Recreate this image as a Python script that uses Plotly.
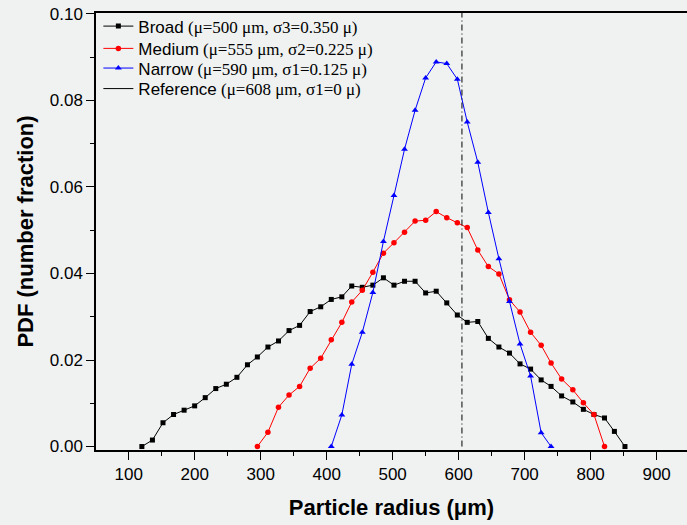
import plotly.graph_objects as go

# ---- data ----
broad_x = [120, 136, 152, 168, 184, 200, 216, 232, 248, 264, 280, 295, 311, 327, 343, 359,
           375, 391, 407, 423, 438, 454, 470, 486, 502, 518, 534, 550, 566, 582, 598, 613,
           629, 645, 661, 677, 693, 709, 725, 740, 756, 773, 789, 805, 821, 836, 852]
broad_y = [0.0, 0.0015, 0.0055, 0.0074, 0.0084, 0.0094, 0.0113, 0.0134, 0.0144, 0.0160,
           0.0189, 0.0207, 0.0230, 0.0244, 0.0268, 0.0280, 0.0312, 0.0323, 0.0340, 0.0346,
           0.0371, 0.0368, 0.0373, 0.0390, 0.0373, 0.0382, 0.0382, 0.0355, 0.0359, 0.0332,
           0.0304, 0.0287, 0.0289, 0.0250, 0.0230, 0.0216, 0.0191, 0.0179, 0.0154, 0.0139,
           0.0117, 0.0103, 0.0086, 0.0074, 0.0066, 0.0035, 0.0]

medium_x = [295, 311, 327, 343, 359, 375, 391, 407, 423, 438, 454, 470, 486, 502, 518, 534,
            550, 566, 582, 598, 613, 629, 645, 661, 677, 693, 709, 725, 740, 756, 773, 789,
            805, 821]
medium_y = [0.0, 0.0033, 0.0091, 0.0119, 0.0139, 0.0181, 0.0204, 0.0247, 0.0287, 0.0334,
            0.0361, 0.0403, 0.0447, 0.0471, 0.0495, 0.0521, 0.0523, 0.0543, 0.0529, 0.0517,
            0.0506, 0.0454, 0.0416, 0.0399, 0.0339, 0.0311, 0.0264, 0.0234, 0.0193, 0.0156,
            0.0131, 0.0101, 0.0074, 0.0]

narrow_x = [407, 423, 438, 454, 470, 486, 502, 518, 534, 550, 566, 582, 598, 613, 629, 645,
            661, 677, 693, 709, 725, 740]
narrow_y = [0.0, 0.0073, 0.0190, 0.0264, 0.0356, 0.0474, 0.0580, 0.0687, 0.0777, 0.0852,
            0.0889, 0.0885, 0.0849, 0.0750, 0.0657, 0.0541, 0.0434, 0.0335, 0.0237, 0.0163,
            0.0032, 0.0]

ref_x = [605, 605]
ref_y = [0.0, 0.1002]

x_range = [50.5, 946]
y_range = [-0.0008, 0.1002]

SERIF = "Liberation Serif, Times New Roman, serif"
SANS = "Liberation Sans, Arial, sans-serif"


def lbl(name, rest):
    # legend base font is serif; the series name is switched to sans
    return f"<span style='font-family:Liberation Sans'>{name}</span> {rest}"


fig = go.Figure()
fig.add_trace(go.Scatter(x=broad_x, y=broad_y, mode="lines+markers", legend="legend",
                         name=lbl("Broad", "(μ=500 μm, σ3=0.350 μ)"),
                         line=dict(color="black", width=1),
                         marker=dict(symbol="square", size=5, color="black")))
fig.add_trace(go.Scatter(x=medium_x, y=medium_y, mode="lines+markers", legend="legend2",
                         name=lbl("Medium", "(μ=555 μm, σ2=0.225 μ)"),
                         line=dict(color="#ff0000", width=1),
                         marker=dict(symbol="circle", size=5.5, color="#ff0000")))
fig.add_trace(go.Scatter(x=narrow_x, y=narrow_y, mode="lines+markers", legend="legend3",
                         name=lbl("Narrow", "(μ=590 μm, σ1=0.125 μ)"),
                         line=dict(color="#0000ff", width=1),
                         marker=dict(symbol="triangle-up", size=6, color="#0000ff")))
# reference line (dash-dot in plot, solid in legend)
fig.add_trace(go.Scatter(x=ref_x, y=ref_y, mode="lines", showlegend=False,
                         line=dict(color="black", width=1, dash="6px,3px,1px,3px")))
fig.add_trace(go.Scatter(x=[None], y=[None], mode="lines", legend="legend4",
                         name=lbl("Reference", "(μ=608 μm, σ1=0 μ)"),
                         line=dict(color="black", width=1)))

bg = "#eff2f1"


def leg(y):
    return dict(x=0.004, y=y, xanchor="left", yanchor="middle",
                bgcolor="rgba(0,0,0,0)", borderwidth=0,
                font=dict(size=17, family=SERIF, color="black"),
                tracegroupgap=0, itemwidth=30)


fig.update_layout(
    width=687, height=525,
    margin=dict(l=96, r=0, t=13, b=75),
    paper_bgcolor=bg, plot_bgcolor=bg,
    font=dict(family=SANS, color="black"),
    showlegend=True,
    legend=leg(0.969), legend2=leg(0.918), legend3=leg(0.873), legend4=leg(0.826),
)

fig.update_xaxes(
    range=x_range, showgrid=False, zeroline=False,
    showline=True, linecolor="black", linewidth=1.5, mirror=True,
    ticks="outside", ticklen=8, tickwidth=1.2, tickcolor="black",
    tick0=100, dtick=100,
    minor=dict(ticks="outside", ticklen=4, tickwidth=1.2, tickcolor="black", dtick=50, tick0=50, showgrid=False),
    tickfont=dict(size=17, family=SANS),
    title=dict(text="<b>Particle radius (μm)</b>", font=dict(size=22, family=SANS), standoff=16),
)
fig.update_yaxes(
    range=y_range, showgrid=False, zeroline=False,
    showline=True, linecolor="black", linewidth=1.5,
    ticks="outside", ticklen=8, tickwidth=1.2, tickcolor="black",
    tick0=0, dtick=0.02, tickformat=".2f",
    minor=dict(ticks="outside", ticklen=4, tickwidth=1.2, tickcolor="black", dtick=0.01, showgrid=False),
    tickfont=dict(size=17, family=SANS),
    title=dict(text="<b>PDF (number fraction)</b>", font=dict(size=22, family=SANS), standoff=10),
)

fig.write_html("out.html")
